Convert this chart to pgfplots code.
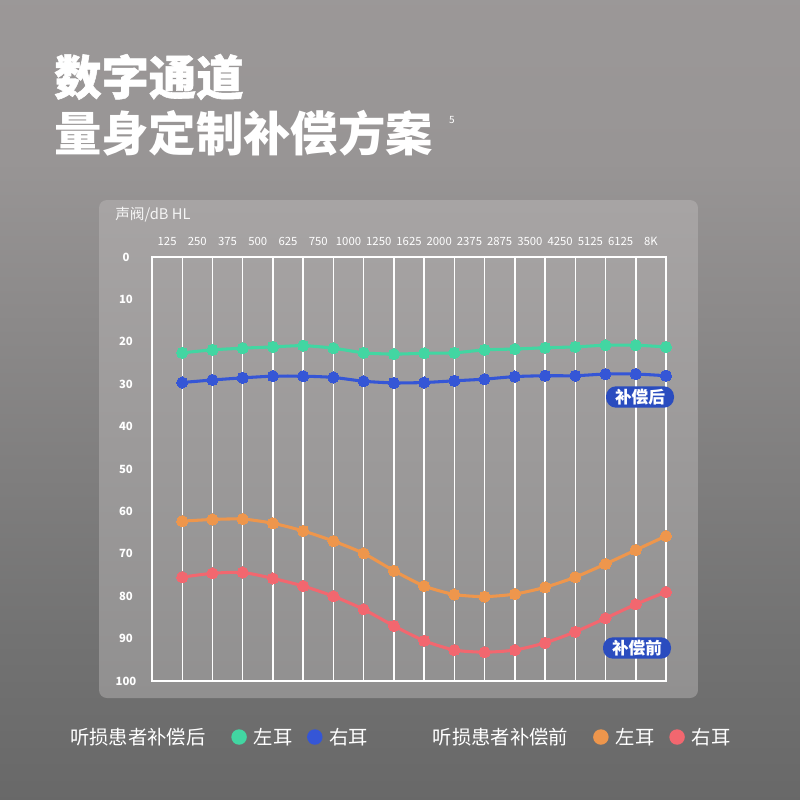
\documentclass[border=0pt]{standalone}
\usepackage{pgfplots}
\pgfplotsset{compat=1.18}
\usepackage{fontspec}
\setmainfont{Noto Sans CJK SC}
\newfontfamily\heavyfont{Noto Sans CJK SC}[BoldFeatures={FakeBold=1.2}]

\definecolor{cgreen}{HTML}{42D6A2}
\definecolor{cblue}{HTML}{3556D6}
\definecolor{corange}{HTML}{EE964C}
\definecolor{cred}{HTML}{F2676F}
\definecolor{cbox}{HTML}{2A4CBF}
\definecolor{bgA}{HTML}{505050}
\definecolor{bgB}{HTML}{727272}
\definecolor{bgC}{HTML}{989595}
\definecolor{bgD}{HTML}{A29E9E}
\definecolor{pnA}{HTML}{868686}
\definecolor{pnB}{HTML}{B2AEAE}

\pgfdeclareverticalshading{bgshade}{100bp}{color(0bp)=(bgA); color(35bp)=(bgB); color(65bp)=(bgC); color(100bp)=(bgD)}
\pgfdeclareverticalshading{panelshade}{100bp}{color(0bp)=(pnA); color(100bp)=(pnB)}

\begin{document}
\begin{tikzpicture}[x=0.75pt,y=-0.75pt]
\useasboundingbox (0,0) rectangle (800,800);
\shade[shading=bgshade] (0,0) rectangle (800,800);
\shade[shading=panelshade, rounded corners=6pt] (99,200) rectangle (698,698);

% titles
\node[anchor=west, text=white, inner sep=0, font=\fontsize{35.5}{40}\selectfont\heavyfont\bfseries] at (54,77) {数字通道};
\node[anchor=west, text=white, inner sep=0, font=\fontsize{35.5}{40}\selectfont\bfseries] at (54,133) {量身定制补偿方案};
\node[text=white, inner sep=0, font=\fontsize{7.5}{8}\selectfont] at (452,120) {5};
\node[anchor=west, text=white!92!gray, inner sep=0, font=\fontsize{11}{13}\selectfont] at (115,215) {声阀/dB HL};

\begin{axis}[
    at={(114pt,-192.75pt)}, anchor=north west,
    scale only axis, width=385.5pt, height=318pt,
    xmin=-1, xmax=16, ymin=0, ymax=100, y dir=reverse,
    clip=false,
    axis line style={draw=white, line width=1.1pt},
    major tick length=0pt,
    xtick={-0.5,0.5,...,15.5},
    xticklabels={125,250,375,500,625,750,1000,1250,1625,2000,2375,2875,3500,4250,5125,6125,8K},
    xticklabel pos=upper,
    xticklabel style={anchor=center, yshift=12pt, text=white, font=\fontsize{8.5}{10}\selectfont},
    extra x ticks={0,1,...,16},
    extra x tick labels={},
    extra x tick style={grid=major},
    major grid style={white, line width=1.1pt},
    ytick={0,10,...,100},
    yticklabel style={anchor=center, xshift=-19.5pt, text=white, font=\fontsize{8.5}{10}\selectfont\bfseries},
    /pgf/number format/assume math mode=true,
    legend columns=-1,
    legend cell align=left,
    legend style={at={(axis description cs:-0.1595,-0.1321)}, anchor=west,
        draw=none, fill=none, text=white, inner sep=0pt, outer sep=0pt,
        font=\fontsize{14.5}{16}\selectfont, nodes={inner sep=0pt}},
]
% after, left ear
\addplot[cgreen, line width=2.3pt, smooth, tension=0.4, mark=*, mark size=4.2pt,
    mark options={fill=cgreen, draw=cgreen, line width=0pt}, forget plot] coordinates {
(0,22.6) (1,21.9) (2,21.5) (3,21.2) (4,20.9) (5,21.5) (6,22.6) (7,22.9) (8,22.7)
(9,22.6) (10,21.9) (11,21.7) (12,21.4) (13,21.2) (14,20.8) (15,20.8) (16,21.2)
};
% after, right ear
\addplot[cblue, line width=2.3pt, smooth, tension=0.4, mark=*, mark size=4.2pt,
    mark options={fill=cblue, draw=cblue, line width=0pt}, forget plot] coordinates {
(0,29.6) (1,29.0) (2,28.5) (3,28.1) (4,28.1) (5,28.4) (6,29.3) (7,29.7) (8,29.6)
(9,29.2) (10,28.8) (11,28.2) (12,28.0) (13,28.0) (14,27.6) (15,27.6) (16,28.0)
};
% before, left ear
\addplot[corange, line width=2.3pt, smooth, tension=0.4, mark=*, mark size=4.2pt,
    mark options={fill=corange, draw=corange, line width=0pt}, forget plot] coordinates {
(0,62.3) (1,61.9) (2,61.8) (3,62.8) (4,64.6) (5,67.0) (6,69.9) (7,74.0) (8,77.6)
(9,79.6) (10,80.1) (11,79.5) (12,77.9) (13,75.5) (14,72.4) (15,69.1) (16,65.8)
};
% before, right ear
\addplot[cred, line width=2.3pt, smooth, tension=0.4, mark=*, mark size=4.2pt,
    mark options={fill=cred, draw=cred, line width=0pt}, forget plot] coordinates {
(0,75.5) (1,74.6) (2,74.4) (3,75.8) (4,77.6) (5,80.0) (6,83.1) (7,87.0) (8,90.5)
(9,92.7) (10,93.2) (11,92.7) (12,91.0) (13,88.4) (14,85.2) (15,81.9) (16,79.0)
};

\addlegendimage{empty legend}
\addlegendentry{听损患者补偿后\hspace{19.5pt}\null}
\addlegendimage{legend image code/.code={\fill[cgreen, draw=none] (5.8pt,0pt) circle[radius=5.8pt]; \path[draw=none, fill=none] (0pt,0pt) rectangle (16.9pt,0pt);}}
\addlegendentry{左耳\hspace{10.9pt}\null}
\addlegendimage{legend image code/.code={\fill[cblue, draw=none] (5.8pt,0pt) circle[radius=5.8pt]; \path[draw=none, fill=none] (0pt,0pt) rectangle (16.9pt,0pt);}}
\addlegendentry{右耳\hspace{48.4pt}\null}
\addlegendimage{empty legend}
\addlegendentry{听损患者补偿前\hspace{18.75pt}\null}
\addlegendimage{legend image code/.code={\fill[corange, draw=none] (5.8pt,0pt) circle[radius=5.8pt]; \path[draw=none, fill=none] (0pt,0pt) rectangle (16.9pt,0pt);}}
\addlegendentry{左耳\hspace{11.25pt}\null}
\addlegendimage{legend image code/.code={\fill[cred, draw=none] (5.8pt,0pt) circle[radius=5.8pt]; \path[draw=none, fill=none] (0pt,0pt) rectangle (16.9pt,0pt);}}
\addlegendentry{右耳}
\end{axis}

\node[fill=cbox, text=white, rounded corners=7.5pt, minimum width=51pt, minimum height=16pt,
    inner sep=0, font=\fontsize{12.5}{14}\selectfont\bfseries] at (640,397) {补偿后};
\node[fill=cbox, text=white, rounded corners=7.5pt, minimum width=51pt, minimum height=16pt,
    inner sep=0, font=\fontsize{12.5}{14}\selectfont\bfseries] at (637,648) {补偿前};
\end{tikzpicture}
\end{document}
